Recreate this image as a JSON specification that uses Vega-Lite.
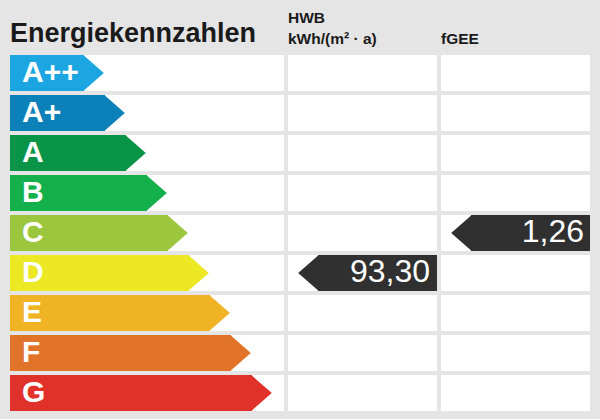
{
  "$schema": "https://vega.github.io/schema/vega-lite/v6.json",
  "description": "Energiekennzahlen: Effizienzklassen mit HWB- und fGEE-Wert",
  "background": "#e5e5e5",
  "padding": {"left": 10, "top": 10, "right": 10, "bottom": 8},
  "spacing": 4,
  "config": {
    "view": {"stroke": null},
    "font": "Liberation Sans",
    "locale": {"number": {"decimal": ",", "thousands": ".", "grouping": [3], "currency": ["", " €"]}},
    "title": {"anchor": "start", "font": "Liberation Sans", "fontWeight": "bold", "color": "#1a1a1a", "baseline": "alphabetic"}
  },
  "datasets": {
    "klassen": [
      {"klasse": "A++", "stufe": 0},
      {"klasse": "A+", "stufe": 1},
      {"klasse": "A", "stufe": 2},
      {"klasse": "B", "stufe": 3},
      {"klasse": "C", "stufe": 4},
      {"klasse": "D", "stufe": 5},
      {"klasse": "E", "stufe": 6},
      {"klasse": "F", "stufe": 7},
      {"klasse": "G", "stufe": 8}
    ],
    "werte": [
      {"kennzahl": "HWB", "klasse": "D", "wert": 93.30},
      {"kennzahl": "fGEE", "klasse": "C", "wert": 1.26}
    ]
  },
  "hconcat": [
    {
      "width": 274,
      "height": 356,
      "title": {"text": "Energiekennzahlen", "fontSize": 27, "offset": 7},
      "data": {"name": "klassen"},
      "encoding": {
        "y": {"field": "klasse", "type": "nominal", "sort": null, "axis": null,
              "scale": {"domain": ["A++", "A+", "A", "B", "C", "D", "E", "F", "G"], "paddingInner": 0.1, "paddingOuter": 0}}
      },
      "layer": [
        {
          "mark": {"type": "rect", "color": "white"},
          "encoding": {"x": {"value": 0}, "x2": {"value": "width"}}
        },
        {
          "mark": {"type": "rect"},
          "encoding": {
            "x": {"field": "stufe", "type": "quantitative", "axis": null, "scale": {"domain": [0, 8], "range": [74, 242]}},
            "x2": {"value": 0},
            "color": {"field": "klasse", "type": "nominal", "legend": null,
              "scale": {"domain": ["A++", "A+", "A", "B", "C", "D", "E", "F", "G"],
                        "range": ["#1ca6e1", "#0b80b9", "#0a9447", "#13b04c", "#9cc63d", "#ece824", "#f0b324", "#e17428", "#e0312a"]}}
          }
        },
        {
          "mark": {"type": "point", "filled": true, "opacity": 1, "size": 1296, "shape": "M-0.04,-1L1.1,0L-0.04,1Z"},
          "encoding": {
            "x": {"field": "stufe", "type": "quantitative"},
            "color": {"field": "klasse", "type": "nominal", "legend": null}
          }
        },
        {
          "mark": {"type": "text", "align": "left", "baseline": "middle", "fontSize": 30, "fontWeight": "bold", "color": "white"},
          "encoding": {"x": {"value": 12}, "text": {"field": "klasse"}}
        }
      ]
    },
    {
      "width": 149,
      "height": 356,
      "title": {"text": ["HWB", "kWh/(m² · a)"], "fontSize": 15.5, "lineHeight": 21, "offset": 8},
      "encoding": {
        "y": {"field": "klasse", "type": "nominal", "sort": null, "axis": null,
              "scale": {"domain": ["A++", "A+", "A", "B", "C", "D", "E", "F", "G"], "paddingInner": 0.1, "paddingOuter": 0}}
      },
      "layer": [
        {
          "data": {"name": "klassen"},
          "mark": {"type": "rect", "color": "white"},
          "encoding": {"x": {"value": 0}, "x2": {"value": "width"}}
        },
        {
          "data": {"name": "werte"},
          "transform": [{"filter": "datum.kennzahl === 'HWB'"}],
          "layer": [
            {
              "mark": {"type": "rect", "color": "#303030"},
              "encoding": {"x": {"value": 30}, "x2": {"value": "width"}}
            },
            {
              "mark": {"type": "point", "filled": true, "opacity": 1, "color": "#303030", "size": 1296, "shape": "M0.04,-1L-1.1,0L0.04,1Z"},
              "encoding": {"x": {"value": 30}}
            },
            {
              "mark": {"type": "text", "align": "right", "baseline": "middle", "fontSize": 32, "color": "white", "dx": -7, "dy": -1},
              "encoding": {"x": {"value": "width"}, "text": {"field": "wert", "type": "quantitative", "format": ".2f"}}
            }
          ]
        }
      ]
    },
    {
      "width": 149,
      "height": 356,
      "title": {"text": "fGEE", "fontSize": 15.5, "offset": 8},
      "encoding": {
        "y": {"field": "klasse", "type": "nominal", "sort": null, "axis": null,
              "scale": {"domain": ["A++", "A+", "A", "B", "C", "D", "E", "F", "G"], "paddingInner": 0.1, "paddingOuter": 0}}
      },
      "layer": [
        {
          "data": {"name": "klassen"},
          "mark": {"type": "rect", "color": "white"},
          "encoding": {"x": {"value": 0}, "x2": {"value": "width"}}
        },
        {
          "data": {"name": "werte"},
          "transform": [{"filter": "datum.kennzahl === 'fGEE'"}],
          "layer": [
            {
              "mark": {"type": "rect", "color": "#303030"},
              "encoding": {"x": {"value": 30}, "x2": {"value": "width"}}
            },
            {
              "mark": {"type": "point", "filled": true, "opacity": 1, "color": "#303030", "size": 1296, "shape": "M0.04,-1L-1.1,0L0.04,1Z"},
              "encoding": {"x": {"value": 30}}
            },
            {
              "mark": {"type": "text", "align": "right", "baseline": "middle", "fontSize": 32, "color": "white", "dx": -6, "dy": -1},
              "encoding": {"x": {"value": "width"}, "text": {"field": "wert", "type": "quantitative", "format": ".2f"}}
            }
          ]
        }
      ]
    }
  ]
}
